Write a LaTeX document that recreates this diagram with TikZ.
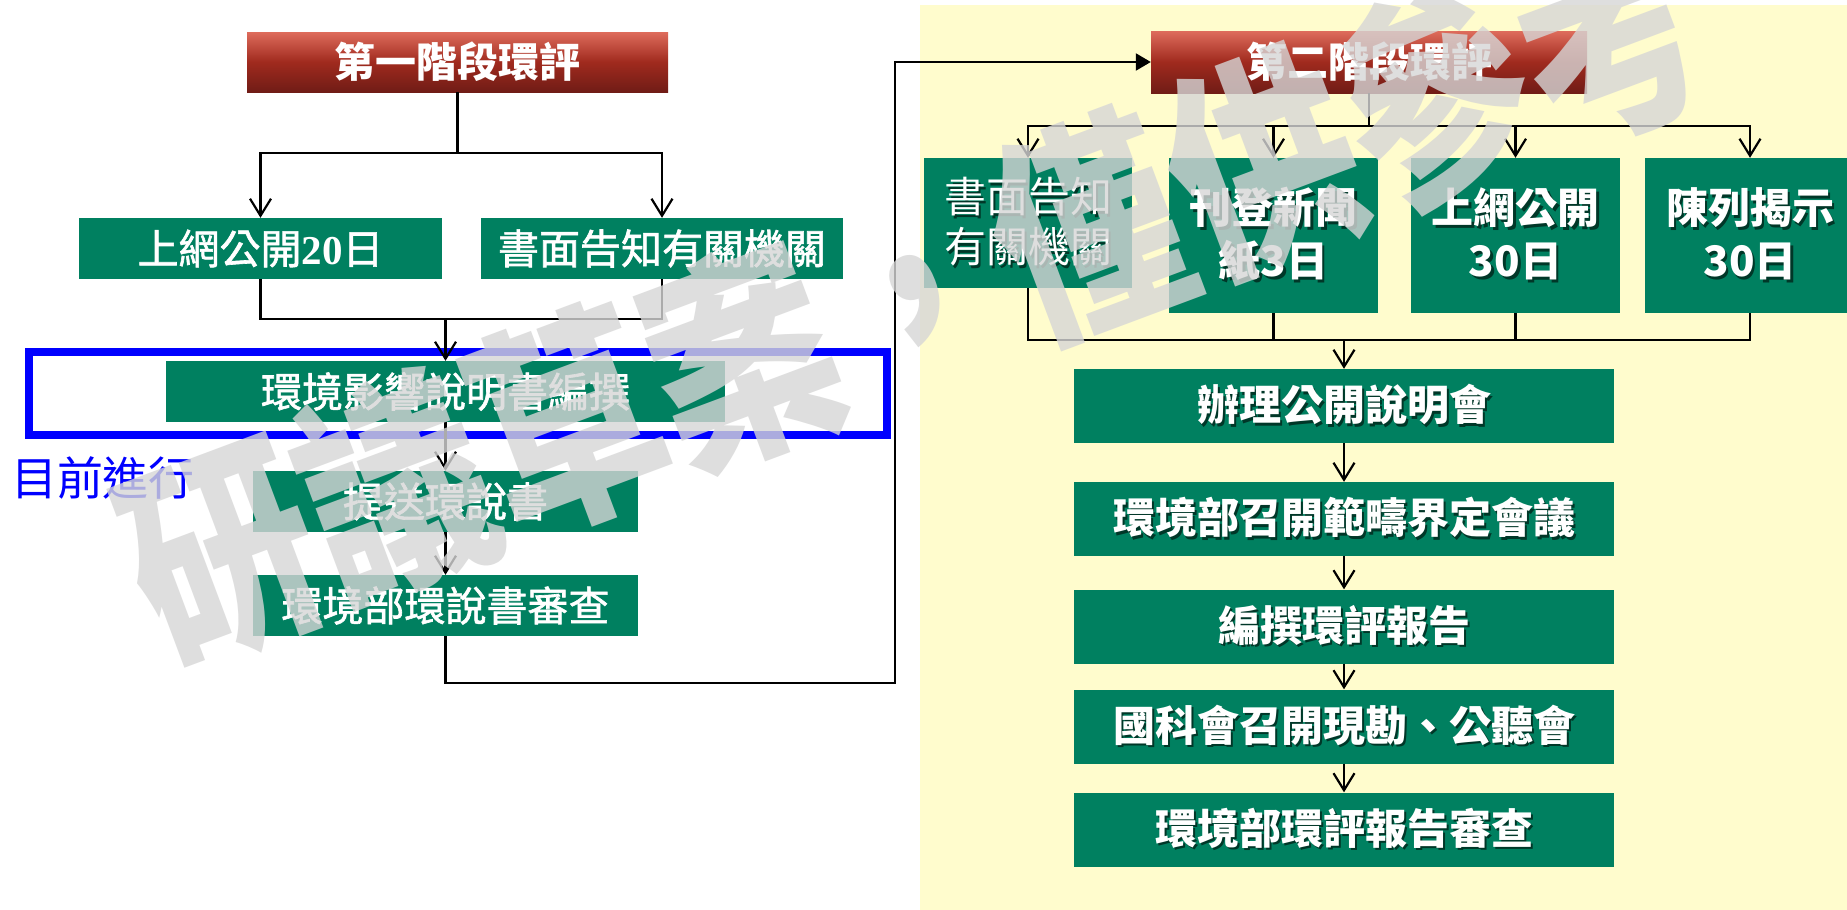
\documentclass[tikz,border=0pt]{standalone}
\usepackage{fontspec}
\usetikzlibrary{arrows.meta,shadings}
\newfontfamily\cjk{Noto Sans CJK TC}
\newfontfamily\cjkfb{Noto Sans CJK TC}[FakeBold=1.5]
\newfontfamily\serifnum{Liberation Serif}
\definecolor{boxgreen}{RGB}{0,128,96}
\definecolor{bgyellow}{RGB}{255,252,205}
\definecolor{redtop}{RGB}{222,108,92}
\definecolor{redmid}{RGB}{160,42,30}
\definecolor{redbot}{RGB}{112,28,22}
\definecolor{shadowc}{RGB}{0,55,40}
\definecolor{wmgray}{RGB}{214,214,214}
\newcommand\shd[1]{\rlap{\kern2.5pt\raisebox{-2.5pt}{\color{shadowc}#1}}#1}
\tikzset{
  greenbox/.style={fill=boxgreen, text=white, inner sep=0pt, minimum height=61pt},
  leftfont/.style={font=\cjkfb\fontsize{41}{48}\selectfont},
  rightfont/.style={font=\cjk\bfseries\fontsize{42}{53}\selectfont},
  stagebox/.style={top color=redtop, bottom color=redbot, middle color=redmid,
    text=white, inner sep=0pt, font=\cjk\bfseries\fontsize{41}{48}\selectfont},
  conn/.style={draw=black, line width=2.2pt},
  arr/.style={conn, -{Straight Barb[length=17pt,width=21pt]}},
  farr/.style={conn, -{Triangle[length=15pt,width=17pt]}},
}
\begin{document}
\begin{tikzpicture}[x=1pt,y=-1pt]
\useasboundingbox (0,0) rectangle (1847,910);
\fill[white] (0,0) rectangle (1847,910);
\fill[bgyellow] (920,5) rectangle (1847,910);

% ---------- stage 1 ----------
\node[stagebox, minimum width=421pt, minimum height=60pt] (s1) at (457.5,62) {第一階段環評};
\node[greenbox, leftfont, minimum width=363pt] (a1) at (260.5,248.5) {上網公開{\serifnum\bfseries 20}日};
\node[greenbox, leftfont, minimum width=362pt] (a2) at (662,248.5) {書面告知有關機關};
\draw[blue, line width=8pt] (29,352) rectangle (887,435);
\node[greenbox, leftfont, minimum width=559pt] (env) at (445.5,391.5) {環境影響說明書編撰};
\node[greenbox, leftfont, minimum width=385pt] (sub) at (445.5,501.5) {提送環說書};
\node[greenbox, leftfont, minimum width=385pt] (rev) at (445.5,605.5) {環境部環說書審查};
\node[text=blue, font=\cjk\fontsize{46}{50}\selectfont, inner sep=0pt] (now) at (103,478) {目前進行};

\coordinate (j1) at (457.5,153);
\coordinate (m1) at (445.5,319);
\draw[conn] (s1.south) -- (j1);
\draw[arr] (j1) -| (a1.north);
\draw[arr] (j1) -| (a2.north);
\draw[conn] (a1.south) |- (m1);
\draw[conn] (a2.south) |- (m1);
\draw[arr] (m1) -- (env.north);
\draw[arr] (env.south) -- (sub.north);
\draw[arr] (sub.south) -- (rev.north);

% ---------- stage 2 ----------
\node[stagebox, minimum width=436pt, minimum height=62pt] (s2) at (1369,62) {第二階段環評};
\coordinate (fb1) at (895,683);
\coordinate (fb2) at (895,62);
\draw[farr] (rev.south) |- (fb1) -- (fb2) -- (s2.west);

\node[greenbox, align=center, font=\cjk\fontsize{42}{50}\selectfont, minimum width=208pt, minimum height=130pt] (b1) at (1028,223) {\shd{書面告知}\\\shd{有關機關}};
\node[greenbox, rightfont, align=center, minimum width=209pt, minimum height=155pt] (b2) at (1273.5,235.5) {\shd{刊登新聞}\\\shd{紙3日}};
\node[greenbox, rightfont, align=center, minimum width=209pt, minimum height=155pt] (b3) at (1515.5,235.5) {\shd{上網公開}\\\shd{30日}};
\node[greenbox, rightfont, align=center, minimum width=210pt, minimum height=155pt] (b4) at (1750,235.5) {\shd{陳列揭示}\\\shd{30日}};

\coordinate (j2) at (1369,126);
\coordinate (m2) at (1344,340);
\draw[conn] (s2.south) -- (j2);
\foreach \b in {b1,b2,b3,b4} {
  \draw[arr] (j2) -| (\b.north);
  \draw[conn] (\b.south) |- (m2);
}

\node[greenbox, rightfont, minimum width=540pt, minimum height=74pt] (c1) at (1344,406) {\shd{辦理公開說明會}};
\node[greenbox, rightfont, minimum width=540pt, minimum height=74pt] (c2) at (1344,519) {\shd{環境部召開範疇界定會議}};
\node[greenbox, rightfont, minimum width=540pt, minimum height=74pt] (c3) at (1344,626.5) {\shd{編撰環評報告}};
\node[greenbox, rightfont, minimum width=540pt, minimum height=74pt] (c4) at (1344,726.5) {\shd{國科會召開現勘、公聽會}};
\node[greenbox, rightfont, minimum width=540pt, minimum height=74pt] (c5) at (1344,829.5) {\shd{環境部環評報告審查}};
\draw[arr] (m2) -- (c1.north);
\draw[arr] (c1.south) -- (c2.north);
\draw[arr] (c2.south) -- (c3.north);
\draw[arr] (c3.south) -- (c4.north);
\draw[arr] (c4.south) -- (c5.north);

% ---------- watermark ----------
\node[font=\cjk\bfseries\fontsize{189}{189}\selectfont, text=wmgray, text opacity=0.8, rotate=20.5, inner sep=0pt] (wm) at (915,292) {\scalebox{0.98}[1.2]{研議草案，僅供參考}};
\end{tikzpicture}
\end{document}
